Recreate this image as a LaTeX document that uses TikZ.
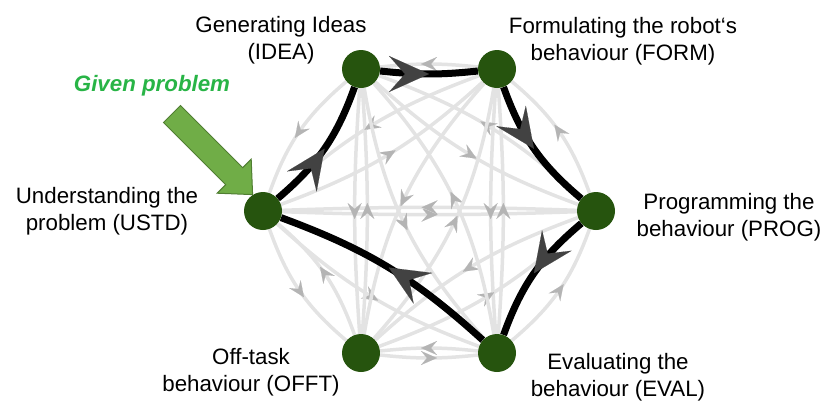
\documentclass[tikz,border=0pt]{standalone}
\usepackage{fontspec}
\setmainfont{Liberation Sans}
\usetikzlibrary{arrows.meta,decorations.markings}
\pgfdeclarelayer{edges}
\pgfsetlayers{edges,main}

\definecolor{nodegreen}{RGB}{38,84,14}
\definecolor{edgegray}{RGB}{227,227,227}
\definecolor{tipgray}{RGB}{180,180,180}
\definecolor{tipdark}{RGB}{66,66,66}
\definecolor{givengreen}{RGB}{40,180,70}
\definecolor{arrowfill}{RGB}{112,173,71}
\definecolor{arrowline}{RGB}{80,126,50}

\begin{document}
\begin{tikzpicture}[x=1pt,y=-1pt,
  phase/.style={circle, fill=nodegreen, minimum size=38pt, inner sep=0pt},
  lbl/.style={align=center, font=\fontsize{22.3}{27}\selectfont, inner sep=0pt},
  link/.style={draw=edgegray, line width=3.5pt, postaction={decorate},
    decoration={markings, mark=at position 0.5 with
      {\pgftransformxshift{8pt}\arrow{Stealth[length=16pt,width=14pt,inset=6pt,line width=0.1pt,color=tipgray]}}}},
  route/.style={draw=black, line width=7pt, postaction={decorate},
    decoration={markings, mark=at position 0.5 with
      {\arrow{Stealth[length=40pt,width=36pt,inset=16pt,line width=0.1pt,color=tipdark]}}}}
]
\useasboundingbox (0,0) rectangle (828,402);

% incoming problem arrow
\filldraw[fill=arrowfill, draw=arrowline, line width=1pt]
  (180.5,105.5) -- (242.7,167.7) -- (251.2,159.2) -- (252.6,194.6)
  -- (217.2,193.2) -- (225.7,184.7) -- (163.5,122.5) -- cycle;

% phases
\node[phase] (ustd) at (263,211) {};
\node[phase] (idea) at (361,69) {};
\node[phase] (form) at (497,69) {};
\node[phase] (prog) at (596,211) {};
\node[phase] (eval) at (497,353) {};
\node[phase] (offt) at (361,353) {};

% transitions
\begin{pgfonlayer}{edges}
\foreach \a/\b/\t in {idea/ustd/15, form/idea/6, prog/form/15, eval/prog/15, ustd/eval/11,
    offt/ustd/15, ustd/offt/15, offt/eval/6, eval/offt/6, ustd/prog/2, prog/ustd/2,
    idea/offt/4, offt/idea/4, form/eval/4, eval/form/4, ustd/form/11, form/ustd/11,
    idea/prog/11, prog/idea/11, offt/prog/11, prog/offt/11, idea/eval/16, eval/idea/16,
    form/offt/16, offt/form/16}
  \draw[link] (\a) to[bend right=\t] (\b);
\draw[route] (ustd) to[bend right=15] (idea);
\draw[route] (idea) to[bend right=6] (form);
\draw[route] (form) to[bend right=15] (prog);
\draw[route] (prog) to[bend right=15] (eval);
\draw[route] (eval) to[bend right=11] (ustd);
\end{pgfonlayer}

% labels
\node[lbl] (ideaText) at (281,40) {Generating Ideas\\(IDEA)};
\node[lbl] (formText) at (623,41) {Formulating the robot‘s\\behaviour (FORM)};
\node[lbl] (progText) at (729,217) {Programming the\\behaviour (PROG)};
\node[lbl] (ustdText) at (107,211) {Understanding the\\problem (USTD)};
\node[lbl] (offtText) at (251,372) {Off-task\\behaviour (OFFT)};
\node[lbl] (evalText) at (618,377) {Evaluating the\\behaviour (EVAL)};
\node[font=\fontsize{22.3}{27}\selectfont\bfseries\itshape, text=givengreen, inner sep=0pt]
  (given) at (152,86) {Given problem};
\end{tikzpicture}
\end{document}
